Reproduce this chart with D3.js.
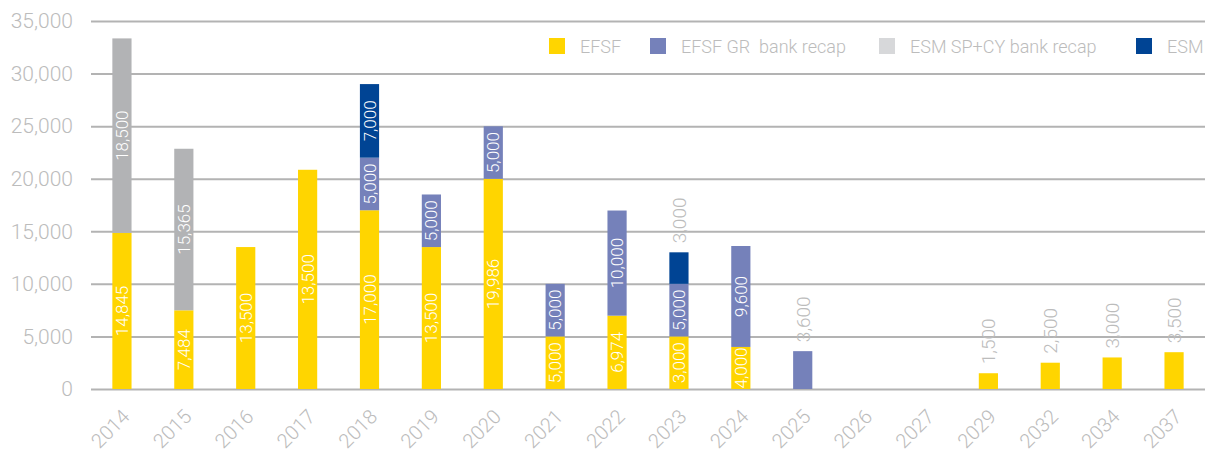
<!doctype html>
<html>
<head>
<script src="https://d3js.org/d3.v7.min.js"></script>
<style>
  body { margin: 0; background: #fff; }
  svg text { font-family: Roboto, "DejaVu Sans", sans-serif; font-weight: 300; }
</style>
</head>
<body>
<svg width="1205" height="452"></svg>
<script>
// data (EUR million)
var years = ["2014","2015","2016","2017","2018","2019","2020","2021","2022","2023","2024","2025","2026","2027","2029","2032","2034","2037"];
var efsf = [14845, 7484, 13500, 20850, 17000, 13500, 19986, 5000, 6974, 5000, 4000, 0, 0, 0, 1500, 2500, 3000, 3500];
var efsfLabels = ["14,845","7,484","13,500","13,500","17,000","13,500","19,986","5,000","6,974","3,000","4,000","","","","1,500","2,500","3,000","3,500"];
var efsfGr = [0, 0, 0, 0, 5000, 5000, 5000, 5000, 10000, 5000, 9600, 3600, 0, 0, 0, 0, 0, 0];
var esmSpCy = [18500, 15365, 0, 0, 0, 0, 0, 0, 0, 0, 0, 0, 0, 0, 0, 0, 0, 0];
var esm = [0, 0, 0, 0, 7000, 0, 0, 0, 0, 3000, 0, 0, 0, 0, 0, 0, 0, 0];
var yTicks = [0, 5000, 10000, 15000, 20000, 25000, 30000, 35000];

var seriesNames = ["EFSF", "EFSF GR  bank recap", "ESM SP+CY bank recap", "ESM"];
var barColors = ["#ffd500", "#7581ba", "#b2b3b5", "#004494"];
var legendColors = ["#ffd500", "#7581ba", "#d7d8da", "#004494"];

var fmt = d3.format(",");
var labelSets = [efsfLabels, efsfGr.map(function(v){ return v ? fmt(v) : ""; }),
                 esmSpCy.map(function(v){ return v ? fmt(v) : ""; }),
                 esm.map(function(v){ return v ? fmt(v) : ""; })];

var rows = years.map(function(y, i) {
  return { year: y, s0: efsf[i], s1: efsfGr[i], s2: esmSpCy[i], s3: esm[i], i: i };
});

var svg = d3.select("svg"),
    plotLeft = 91, plotRight = 1205, plotTop = 21, plotBottom = 389;

var x = d3.scaleBand().domain(years).range([plotLeft, plotRight]).paddingInner(0.69).paddingOuter(0.345);
var y = d3.scaleLinear().domain([0, 35000]).range([plotBottom, plotTop]);

// gridlines + y labels
var yAxis = svg.append("g")
  .attr("transform", "translate(" + plotLeft + ",0)")
  .call(d3.axisLeft(y).tickValues(yTicks).tickSize(-(plotRight - plotLeft)).tickPadding(18).tickFormat(fmt));
yAxis.select(".domain").remove();
yAxis.selectAll(".tick line").attr("stroke", "#b3b3b3").attr("stroke-width", 2);
yAxis.selectAll(".tick text").attr("fill", "#bcbcbc").style("font-size", "21px");

// bars
var stack = d3.stack().keys(["s0", "s1", "s2", "s3"]);
var layers = stack(rows);

var g = svg.append("g");
layers.forEach(function(layer, k) {
  g.selectAll(".bar" + k)
    .data(layer.filter(function(d){ return d[1] - d[0] > 0; }))
    .enter().append("rect")
    .attr("x", function(d){ return x(d.data.year); })
    .attr("width", x.bandwidth())
    .attr("y", function(d){ return y(d[1]); })
    .attr("height", function(d){ return y(d[0]) - y(d[1]); })
    .attr("fill", barColors[k]);
});

// value labels: inside when the segment is tall enough, else above in grey
layers.forEach(function(layer, k) {
  layer.forEach(function(d) {
    var lab = labelSets[k][d.data.i];
    if (!lab || d[1] - d[0] <= 0) return;
    var cx = x(d.data.year) + x.bandwidth() / 2;
    var h = y(d[0]) - y(d[1]);
    var t = g.append("text").text(lab);
    if (h < 40) {
      t.style("font-size", "19px")
       .attr("transform", "translate(" + (cx + 7) + "," + (y(d[1]) - 9) + ") rotate(-90)")
       .attr("text-anchor", "start").attr("fill", "#bcbcbc");
    } else {
      var cy = (y(d[0]) + y(d[1])) / 2;
      t.style("font-size", "17px")
       .attr("transform", "translate(" + (cx + 6) + "," + cy + ") rotate(-90)")
       .attr("text-anchor", "middle").attr("fill", "#fff");
    }
  });
});

// x labels
var xAxis = svg.append("g")
  .attr("transform", "translate(0," + plotBottom + ")")
  .call(d3.axisBottom(x).tickSize(0).tickPadding(0));
xAxis.select(".domain").remove();
xAxis.selectAll(".tick text")
  .attr("fill", "#bcbcbc").style("font-size", "20px")
  .attr("text-anchor", "end")
  .attr("dy", null).attr("y", 0)
  .attr("transform", "translate(9,29) rotate(-45)");

// legend
var legendX = [549, 650, 879, 1136];
var leg = svg.append("g");
seriesNames.forEach(function(n, k) {
  leg.append("rect").attr("x", legendX[k]).attr("y", 38).attr("width", 16).attr("height", 16).attr("fill", legendColors[k]);
  leg.append("text").attr("x", legendX[k] + 31).attr("y", 53).text(n)
    .attr("fill", "#bcbcbc").style("font-size", "18px").style("white-space", "pre");
});
</script>
</body>
</html>
